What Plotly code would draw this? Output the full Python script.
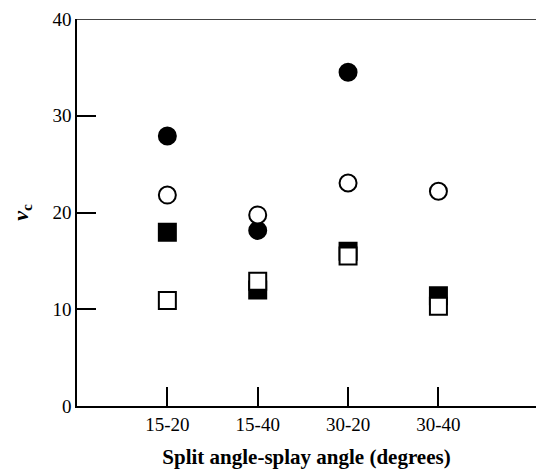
import plotly.graph_objects as go

categories = ["15-20", "15-40", "30-20", "30-40"]
filled_circle = [27.9, 18.15, 34.5, None]
open_circle = [21.8, 19.75, 23.05, 22.2]
filled_square = [17.95, 12.0, 16.0, 11.4]
open_square = [10.9, 12.9, 15.5, 10.3]
y_ticks = [0, 10, 20, 30, 40]

FONT = "Liberation Serif, Times New Roman, serif"

fig = go.Figure()

def add(vals, symbol, filled):
    fig.add_trace(go.Scatter(
        x=categories, y=vals, mode="markers", showlegend=False,
        marker=dict(symbol=symbol, size=17,
                    color="black" if filled else "white",
                    line=dict(color="black", width=2)),
    ))

add(filled_circle, "circle", True)
add(open_circle, "circle", False)
add(filled_square, "square", True)
add(open_square, "square", False)

fig.add_shape(type="line", xref="paper", yref="y", x0=0, x1=1, y0=40, y1=40,
              line=dict(color="#444444", width=2))

fig.update_layout(
    width=536, height=469,
    margin=dict(l=77, r=0, t=19, b=63),
    plot_bgcolor="white", paper_bgcolor="white",
    font=dict(family=FONT, color="black", size=19),
    xaxis=dict(
        type="category", categoryorder="array", categoryarray=categories,
        range=[-1, 4.08], showgrid=False, zeroline=False,
        showline=True, linecolor="black", linewidth=1.5,
        ticks="inside", ticklen=19, tickwidth=1.5, tickcolor="black",
        tickfont=dict(size=19, family=FONT),
        title=dict(text="<b>Split angle-splay angle (degrees)</b>",
                   font=dict(size=21, family=FONT), standoff=18),
    ),
    yaxis=dict(
        range=[0, 40], tickvals=y_ticks, showgrid=False, zeroline=False,
        showline=True, linecolor="black", linewidth=1.5,
        ticks="inside", ticklen=19, tickwidth=1.5, tickcolor="black",
        tickfont=dict(size=19, family=FONT),
        title=dict(text="<b><i>v</i><sub>c</sub></b>",
                   font=dict(size=22, family=FONT), standoff=18),
    ),
)

fig.write_html("out.html")
